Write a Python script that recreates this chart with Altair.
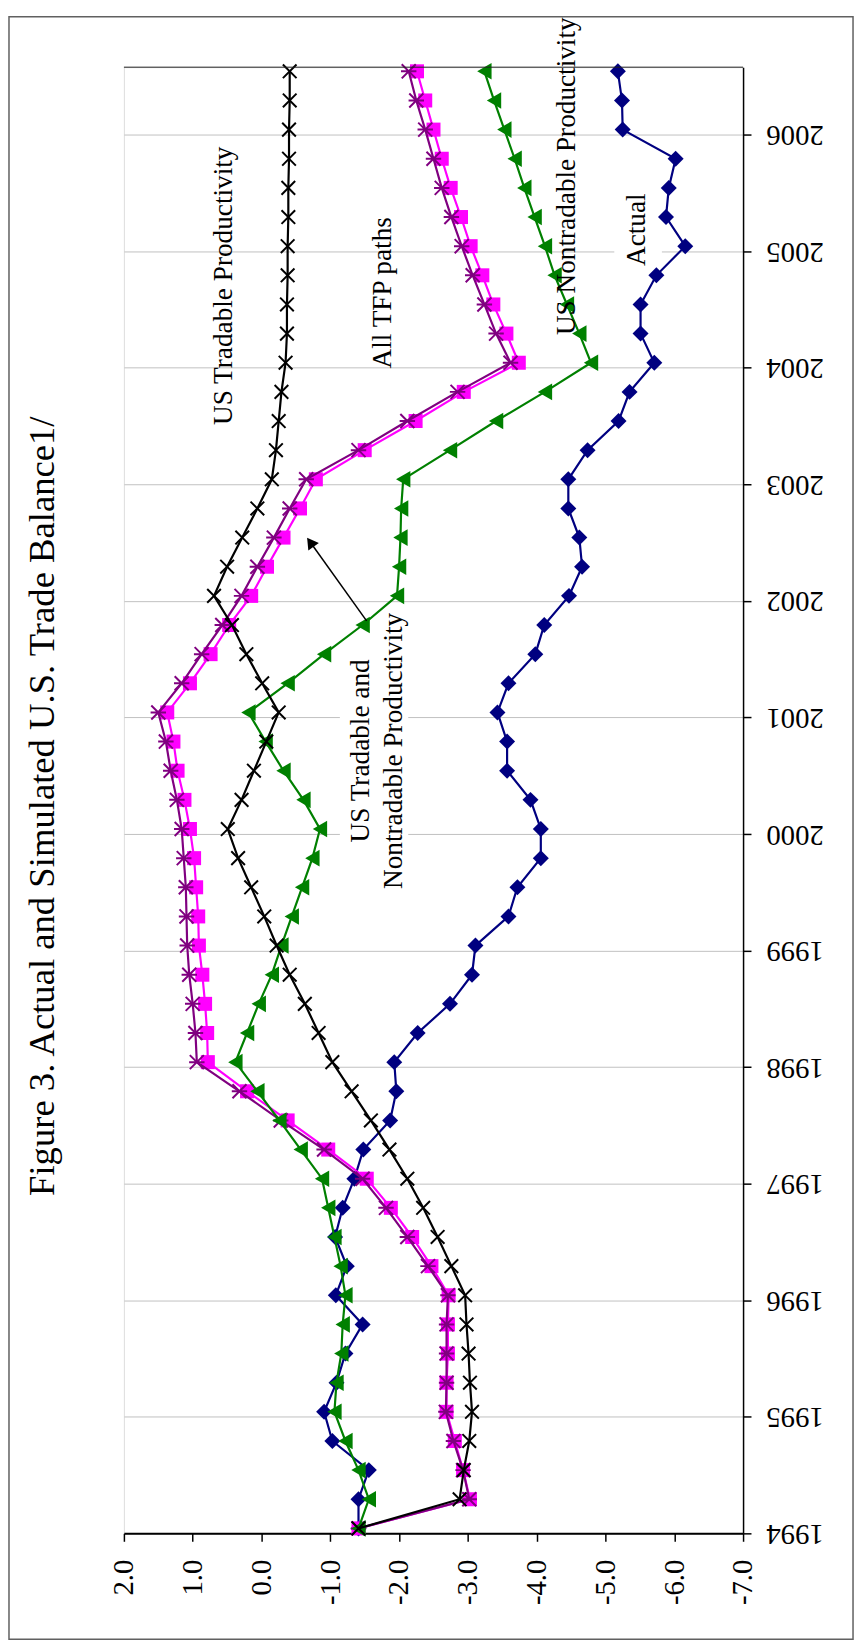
import altair as alt
import pandas as pd

# ---------------- data ----------------
quarters = [f"{y}Q{q}" for y in range(1994, 2007) for q in range(1, 5)][:51]

actual = [-1.41, -1.41, -1.56, -1.03, -0.91, -1.09, -1.22, -1.47, -1.08, -1.24,
          -1.07, -1.18, -1.35, -1.48, -1.87, -1.96, -1.93, -2.27, -2.74, -3.06,
          -3.11, -3.59, -3.72, -4.06, -4.06, -3.91, -3.57, -3.57, -3.43, -3.59,
          -3.98, -4.11, -4.47, -4.66, -4.62, -4.46, -4.46, -4.74, -5.19, -5.35,
          -5.71, -5.51, -5.51, -5.74, -6.16, -5.88, -5.92, -6.02, -5.25, -5.24,
          -5.18]

us_nontradable = [-1.41, -1.56, -1.41, -1.22, -1.06, -1.09, -1.16, -1.18, -1.22, -1.15,
                  -1.06, -0.97, -0.88, -0.57, -0.26, 0.06, 0.38, 0.21, 0.04, -0.15,
                  -0.29, -0.44, -0.59, -0.74, -0.85, -0.61, -0.32, -0.06, 0.19, -0.38,
                  -0.91, -1.47, -1.97, -2.00, -2.02, -2.03, -2.06, -2.74, -3.41, -4.12,
                  -4.79, -4.62, -4.44, -4.26, -4.12, -3.97, -3.82, -3.68, -3.53, -3.38,
                  -3.24]

us_tradable = [-1.41, -2.88, -2.94, -3.02, -3.06, -3.03, -3.01, -2.98, -2.96, -2.76,
               -2.56, -2.35, -2.12, -1.86, -1.59, -1.31, -1.03, -0.83, -0.63, -0.41,
               -0.22, -0.04, 0.15, 0.34, 0.49, 0.29, 0.11, -0.07, -0.25, -0.01,
               0.22, 0.43, 0.69, 0.50, 0.28, 0.06, -0.15, -0.21, -0.25, -0.29,
               -0.35, -0.37, -0.37, -0.38, -0.38, -0.39, -0.39, -0.40, -0.40, -0.41,
               -0.41]

all_tfp = [-1.41, -3.03, -2.93, -2.81, -2.69, -2.69, -2.71, -2.71, -2.72, -2.47,
           -2.19, -1.88, -1.53, -0.97, -0.38, 0.21, 0.78, 0.79, 0.82, 0.86,
           0.91, 0.92, 0.95, 0.98, 1.04, 1.12, 1.22, 1.28, 1.37, 1.04,
           0.74, 0.47, 0.15, -0.08, -0.32, -0.56, -0.79, -1.50, -2.24, -2.94,
           -3.74, -3.56, -3.37, -3.21, -3.04, -2.90, -2.75, -2.62, -2.50, -2.38,
           -2.26]

us_trad_nontrad = [-1.41, -3.02, -2.93, -2.79, -2.68, -2.69, -2.69, -2.69, -2.71, -2.42,
                   -2.12, -1.81, -1.47, -0.91, -0.28, 0.32, 0.94, 0.96, 1.00, 1.05,
                   1.08, 1.09, 1.10, 1.13, 1.16, 1.23, 1.32, 1.39, 1.50, 1.16,
                   0.87, 0.57, 0.29, 0.06, -0.18, -0.41, -0.65, -1.41, -2.12, -2.85,
                   -3.62, -3.41, -3.24, -3.07, -2.91, -2.76, -2.62, -2.50, -2.38, -2.25,
                   -2.14]

value_ticks = [2, 1, 0, -1, -2, -3, -4, -5, -6, -7]
year_ticks = list(range(1994, 2007))

TITLE = "Figure 3. Actual and Simulated U.S. Trade Balance1/"

ann_labels = ["US Tradable Productivity", "All TFP paths", "US Nontradable Productivity",
              "Actual", "US Tradable and", "Nontradable Productivity"]
ann_value = [0.545, -1.773, -4.437, -5.46, -1.442, -1.931]
ann_time = [2004.66, 2004.60, 2005.60, 2005.141, 2000.67, 2000.67]

# white label boxes (value range, time range)
box_v1 = [-1.139, -5.128]
box_v2 = [-2.133, -5.82]
box_t1 = [1999.44, 2004.818]
box_t2 = [2001.90, 2005.473]

# arrow tail -> head
arrow_v = [-1.528]
arrow_t = [2001.785]
arrow_v2 = [-0.710]
arrow_t2 = [2002.46]

# ---------------- styling ----------------
FONT = "Liberation Serif"
GRID_OFFSET = 0.0425          # gridlines sit a little below the quarter points
T_MIN = 1994 - GRID_OFFSET
T_MAX = 2006.5355

SHAPE_X = "M-1,-1L1,1M-1,1L1,-1"
SHAPE_AST = "M-1,-1L1,1M-1,1L1,-1M-1.1,0L1.1,0"

series = [
    ("Actual", actual, "#000080", "diamond", True, 260),
    ("All TFP paths", all_tfp, "#FF00FF", "square", True, 200),
    ("US Tradable and Nontradable", us_trad_nontrad, "#800080", SHAPE_AST, False, 200),
    ("US Nontradable", us_nontradable, "#008000", "triangle-left", True, 280),
    ("US Tradable", us_tradable, "#000000", SHAPE_X, False, 190),
]

rows = []
for name, vals, *_ in series:
    for q, v in zip(quarters, vals):
        rows.append({"quarter": q, "t": int(q[:4]) + (int(q[-1]) - 1) / 4.0,
                     "series": name, "value": v})
df = pd.DataFrame(rows)

xscale = alt.Scale(domain=[-7, 2], reverse=True, nice=False, zero=False)
yscale = alt.Scale(domain=[T_MIN, T_MAX], nice=False, zero=False)

xaxis = alt.Axis(
    values=value_ticks, title=None, orient="bottom", grid=False,
    labelExpr="datum.value < 0 ? '-' + format(-datum.value, '.1f') : format(datum.value, '.1f')",
    labelAngle=270, labelAlign="right", labelBaseline="middle",
    labelFont=FONT, labelFontSize=29, labelColor="black", labelPadding=18,
    labelFlush=False, labelOverlap=False,
    tickSize=8, tickColor="black", tickWidth=1.5,
    domainColor="black", domainWidth=2,
)
yaxis = alt.Axis(
    values=[y - GRID_OFFSET for y in year_ticks], title=None, orient="right",
    labelExpr="round(datum.value)",
    labelAngle=180, labelAlign="right", labelBaseline="middle",
    labelFont=FONT, labelFontSize=29, labelColor="black", labelPadding=15,
    labelFlush=False, labelOverlap=False,
    tickSize=8, tickColor="black", tickWidth=1.5,
    domainColor="black", domainWidth=1.5,
    grid=True, gridColor="#c0c0c0", gridWidth=1,
)

X = lambda f: alt.X(f, type="quantitative", scale=xscale, axis=xaxis)
Y = lambda f: alt.Y(f, type="quantitative", scale=yscale, axis=yaxis)

layers = []

# white boxes behind two labels
boxes = pd.DataFrame({"v1": box_v1, "v2": box_v2, "t1": box_t1, "t2": box_t2})
layers.append(alt.Chart(boxes).mark_rect(color="white", opacity=1).encode(
    x=X("v1"), x2="v2", y=Y("t1"), y2="t2"))

for name, vals, color, shape, filled, size in series:
    base = alt.Chart(df).transform_filter(alt.datum.series == name)
    layers.append(base.mark_line(color=color, strokeWidth=2.2).encode(
        x=X("value"), y=Y("t"), order="t:Q"))
    if filled:
        pt = base.mark_point(shape=shape, filled=True, color=color, size=size,
                             opacity=1, strokeWidth=0.5)
    else:
        pt = base.mark_point(shape=shape, filled=False, color=color, size=size,
                             opacity=1, strokeWidth=2)
    layers.append(pt.encode(x=X("value"), y=Y("t")))

# arrow
arrow = pd.DataFrame({"v": arrow_v, "t": arrow_t, "v2": arrow_v2, "t2": arrow_t2})
layers.append(alt.Chart(arrow).mark_rule(color="black", strokeWidth=1.5).encode(
    x=X("v"), x2="v2", y=Y("t"), y2="t2"))
layers.append(alt.Chart(arrow).mark_point(shape="triangle-up", filled=True, color="black",
                                          size=170, opacity=1, angle=324.5).encode(
    x=X("v2"), y=Y("t2")))

# annotations
ann = pd.DataFrame({"label": ann_labels, "v": ann_value, "t": ann_time})
layers.append(alt.Chart(ann).mark_text(angle=270, align="center", baseline="middle",
                                       font=FONT, fontSize=27.5, color="black").encode(
    x=X("v"), y=Y("t"), text="label:N"))

# top border of plot area
layers.append(alt.Chart(pd.DataFrame({"a": [0]})).mark_rule(color="#202020", strokeWidth=1).encode(
    x=alt.value(0), x2=alt.value(625), y=alt.value(0)))

# figure title
layers.append(alt.Chart(pd.DataFrame({"label": [TITLE]})).mark_text(
    angle=270, align="center", baseline="middle", font=FONT, fontSize=37, color="black").encode(
    x=alt.value(-82), y=alt.value(746), text="label:N"))

# outer frame
layers.append(alt.Chart(pd.DataFrame({"a": [0]})).mark_rect(
    fillOpacity=0, stroke="#606060", strokeWidth=1.5).encode(
    x=alt.value(-116), x2=alt.value(736), y=alt.value(-51), y2=alt.value(1587)))

chart = alt.layer(*layers).properties(
    width=625, height=1480,
    autosize=alt.AutoSizeParams(type="none"),
    padding={"left": 117, "top": 52, "right": 114, "bottom": 110},
).configure_view(stroke="#808080", strokeWidth=1.5).configure(background="white")

chart.save("out.html", embed_options={"renderer": "svg", "actions": False})
